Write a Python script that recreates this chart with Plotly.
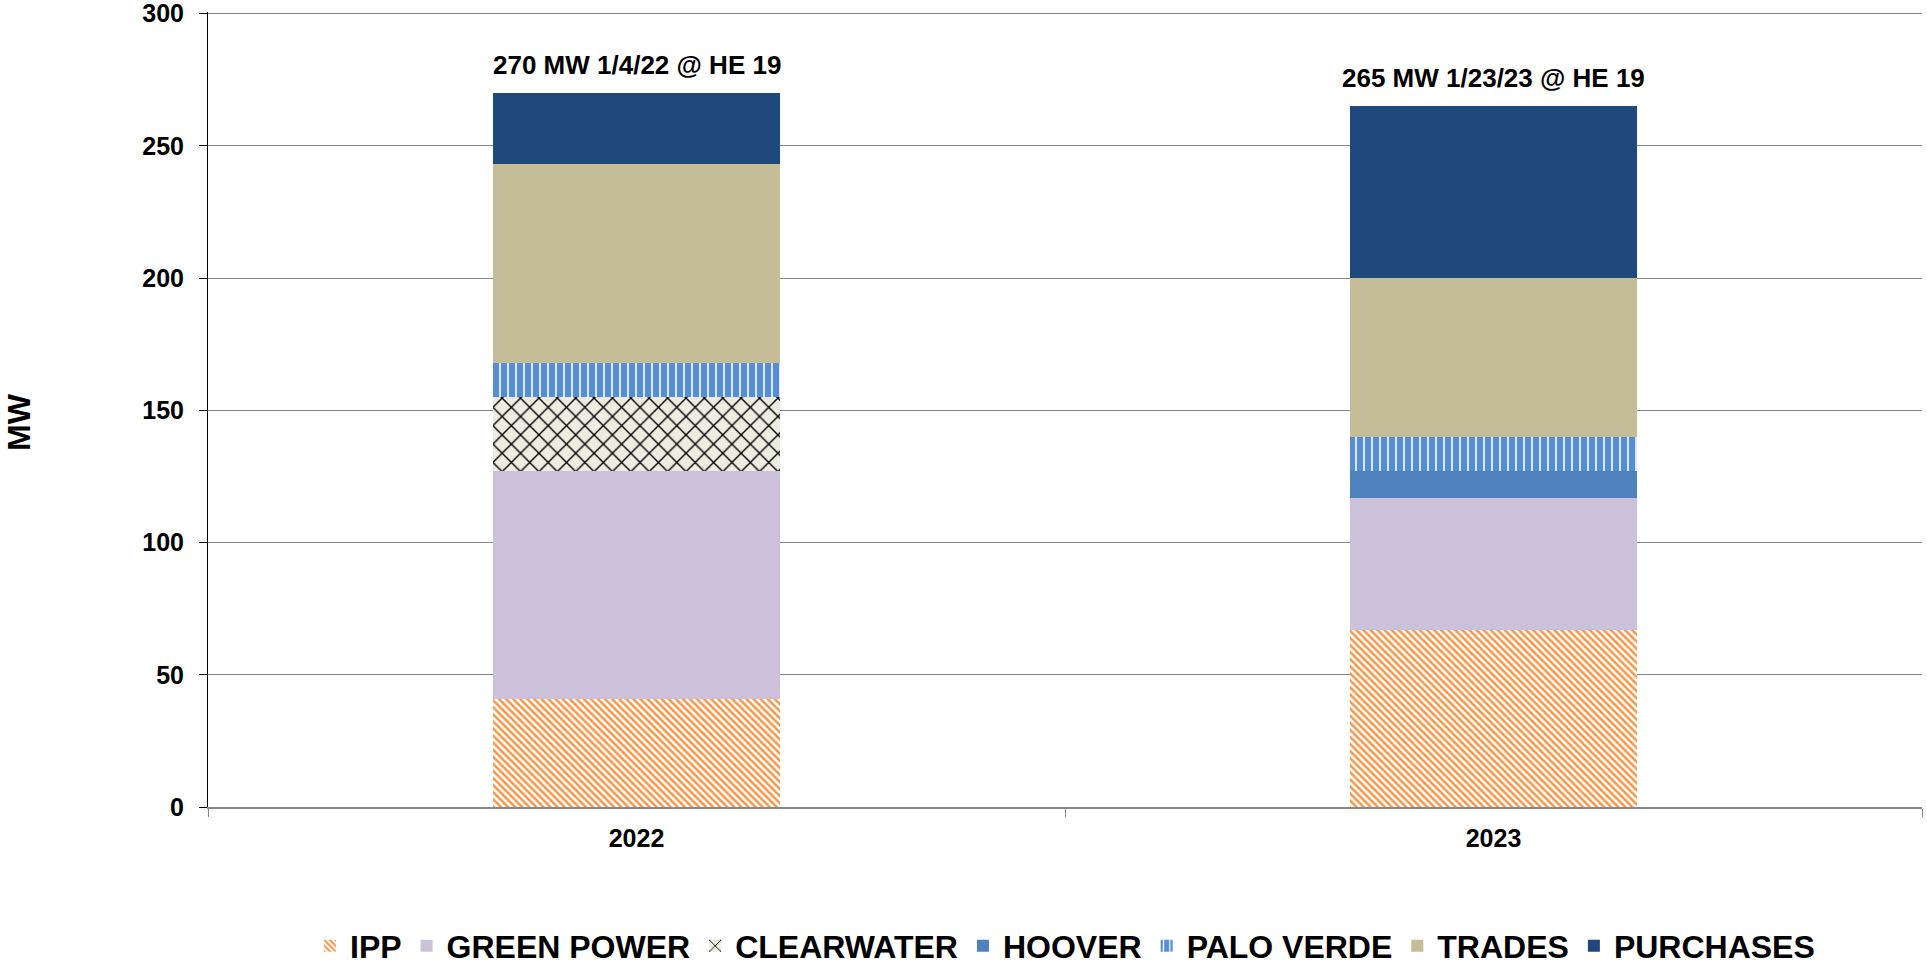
import plotly.graph_objects as go

years = ["2022", "2023"]
ipp = [41, 67]
green_power = [86, 50]
clearwater = [28, 0]
hoover = [0, 10]
palo_verde = [13, 13]
trades = [75, 60]
purchases = [27, 65]
totals = [270, 265]
peak_labels = ["270 MW 1/4/22 @ HE 19", "265 MW 1/23/23 @ HE 19"]
y_ticks = [0, 50, 100, 150, 200, 250, 300]

FONT = "Liberation Sans, Arial, sans-serif"

series = [
    ("IPP", ipp, dict(color="#F79646", pattern=dict(shape="\\", fgcolor="#F79646", bgcolor="#FFFFFF", size=5, solidity=0.5, fillmode="replace"))),
    ("GREEN POWER", green_power, dict(color="#CCC1DA")),
    ("CLEARWATER", clearwater, dict(color="#EEECE1", pattern=dict(shape="x", fgcolor="#000000", bgcolor="#EEECE1", size=13, solidity=0.2, fillmode="replace"))),
    ("HOOVER", hoover, dict(color="#4F81BD")),
    ("PALO VERDE", palo_verde, dict(color="#558ED5", pattern=dict(shape="|", fgcolor="#FFFFFF", bgcolor="#558ED5", size=8, solidity=0.2, fillmode="replace"))),
    ("TRADES", trades, dict(color="#C4BD97")),
    ("PURCHASES", purchases, dict(color="#1F497D")),
]

fig = go.Figure()
for name, vals, marker in series:
    marker = dict(marker)
    marker["line"] = dict(width=0)
    fig.add_trace(go.Bar(x=years, y=vals, name=name, marker=marker))

for i, (tot, lab) in enumerate(zip(totals, peak_labels)):
    fig.add_annotation(x=i, y=tot, text=lab, showarrow=False, yanchor="middle", yshift=28,
                       font=dict(family=FONT, size=26, color="#000000", weight="bold"))

fig.add_annotation(xref="paper", yref="paper", x=-(208 - 19) / 1714, y=(807 - 422) / 795,
                   text="MW", textangle=-90, showarrow=False, xanchor="center", yanchor="middle",
                   font=dict(family=FONT, size=32, color="#000000", weight="bold"))

fig.update_layout(
    width=1927, height=967,
    margin=dict(l=208, r=5, t=12, b=160),
    barmode="stack", bargap=0.665,
    plot_bgcolor="#FFFFFF", paper_bgcolor="#FFFFFF",
    font=dict(family=FONT, size=25, color="#000000", weight="bold"),
    legend=dict(orientation="h", x=0.5, xanchor="center", xref="paper",
                yref="container", y=(967 - 946) / 967, yanchor="middle",
                font=dict(family=FONT, size=32, color="#000000", weight="bold"),
                traceorder="normal"),
    showlegend=True,
)
fig.update_yaxes(range=[0, 300.6], tickvals=y_ticks, showgrid=True, gridcolor="#868686", gridwidth=1,
                 showline=True, linecolor="#000000", linewidth=1, ticks="outside", ticklen=8,
                 tickcolor="#000000", zeroline=False, ticklabelstandoff=10,
                 ticklabeloverflow="allow", automargin=False,
                 tickfont=dict(family=FONT, size=25, color="#000000", weight="bold"))
fig.update_xaxes(type="category", range=[-0.5, len(years) - 0.5], showline=True, linecolor="#888888",
                 linewidth=2, ticks="outside", tickson="boundaries", ticklen=8, tickcolor="#888888",
                 tickangle=0, ticklabelstandoff=8, automargin=False,
                 tickfont=dict(family=FONT, size=25, color="#000000", weight="bold"))

fig.write_html("out.html", config={"displayModeBar": False},
               post_script="document.body.style.margin='0';")
